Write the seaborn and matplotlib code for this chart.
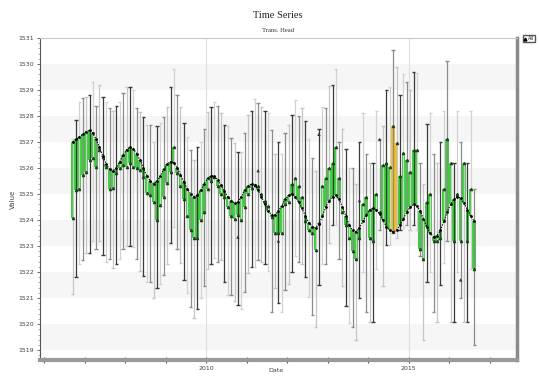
import numpy as np
import pandas as pd
import matplotlib
matplotlib.use("Agg")
import matplotlib.pyplot as plt
import matplotlib.dates as mdates
from matplotlib.ticker import MultipleLocator, FixedLocator
from matplotlib.lines import Line2D
import seaborn as sns

# Monthly head statistics, Sep 2006 - Aug 2016
months = pd.date_range("2006-09-01", periods=120, freq="MS") + pd.Timedelta(days=14)

trend = [
    1527.0, 1527.1, 1527.2, 1527.3,
    1527.4, 1527.45, 1527.35, 1527.1, 1526.8, 1526.45, 1526.15, 1525.95, 1525.9, 1526.0, 1526.25, 1526.5,
    1526.7, 1526.8, 1526.75, 1526.55, 1526.3, 1526.0, 1525.7, 1525.5, 1525.4, 1525.5, 1525.7, 1525.95,
    1526.15, 1526.25, 1526.2, 1526.0, 1525.75, 1525.45, 1525.2, 1525.0, 1524.9, 1524.95, 1525.15, 1525.4,
    1525.6, 1525.7, 1525.7, 1525.55, 1525.35, 1525.1, 1524.9, 1524.75, 1524.65, 1524.7, 1524.9, 1525.15,
    1525.3, 1525.4, 1525.35, 1525.15, 1524.9, 1524.6, 1524.35, 1524.2, 1524.2, 1524.35, 1524.55, 1524.8,
    1524.95, 1525.0, 1524.9, 1524.7, 1524.45, 1524.15, 1523.9, 1523.75, 1523.7, 1523.85, 1524.15, 1524.5,
    1524.75, 1524.9, 1524.95, 1524.8, 1524.5, 1524.15, 1523.8, 1523.6, 1523.55, 1523.7, 1523.95, 1524.2,
    1524.4, 1524.45, 1524.4, 1524.25, 1524.0, 1523.75, 1523.6, 1523.55, 1523.6, 1523.8, 1524.05, 1524.3,
    1524.5, 1524.6, 1524.55, 1524.35, 1524.05, 1523.75, 1523.5, 1523.35, 1523.4, 1523.6, 1523.95, 1524.3,
    1524.6, 1524.8, 1524.9, 1524.85, 1524.65, 1524.4, 1524.15, 1523.95,
]

observed = [
    1524.07, 1525.15, 1525.2, 1525.73, 1525.86, 1526.3, 1526.4, 1526.05, 1526.7, 1526.44, 1526.05, 1525.2,
    1525.25, 1525.8, 1526.0, 1526.1, 1526.05, 1526.2, 1526.05, 1526.0, 1525.92, 1525.67, 1525.03, 1524.96,
    1524.7, 1524.0, 1524.58, 1524.9, 1525.41, 1525.86, 1526.8, 1525.8, 1525.3, 1524.8, 1524.15, 1523.6,
    1523.3, 1523.3, 1524.0, 1524.3, 1525.2, 1525.5, 1525.65, 1525.3, 1525.0, 1524.9, 1524.5, 1524.15,
    1524.05, 1524.2, 1524.0, 1524.5, 1525.0, 1525.25, 1525.35, 1525.3, 1525.0, 1524.75, 1524.55, 1524.1,
    1523.5, 1523.5, 1523.5, 1524.6, 1524.7, 1525.4, 1525.6, 1525.3, 1524.9, 1523.95, 1523.6, 1523.5,
    1522.85, 1523.9, 1525.3, 1525.6, 1526.0, 1526.2, 1526.8, 1525.6, 1524.3, 1523.8, 1523.3, 1522.8,
    1522.5, 1523.3, 1524.6, 1524.9, 1523.3, 1523.2, 1525.0, 1524.3, 1526.1, 1526.2, 1526.05, 1527.6,
    1526.95, 1525.7, 1526.56, 1526.3, 1525.85, 1526.7, 1526.7, 1522.9, 1522.5, 1524.7, 1525.0, 1523.2,
    1523.2, 1523.3, 1525.2, 1527.1, 1526.2, 1523.2, 1525.0, 1523.2, 1526.2, 1523.2, 1525.2, 1522.1,
]

maximum = [
    1527.1, 1527.85, 1528.55, 1528.7, 1528.75, 1528.8, 1529.3, 1528.4, 1529.2, 1528.75, 1528.55, 1528.3,
    1528.2, 1528.4, 1528.55, 1528.9, 1529.1, 1529.1, 1529.0, 1528.3, 1528.15, 1527.95, 1527.65, 1527.65,
    1527.0, 1527.6, 1527.75, 1527.95, 1528.35, 1529.1, 1529.8, 1528.8, 1528.35, 1527.75, 1527.2, 1526.7,
    1526.3, 1526.8, 1527.0, 1527.5, 1528.15, 1528.35, 1528.55, 1528.4, 1528.1, 1527.65, 1527.6, 1527.15,
    1526.95, 1526.6, 1526.6, 1527.35, 1528.05, 1528.2, 1528.65, 1528.5, 1528.35, 1528.2, 1528.1, 1527.45,
    1526.55, 1527.0, 1526.55, 1527.35, 1527.65, 1528.05, 1528.6, 1528.0, 1528.3, 1527.8, 1527.1, 1526.4,
    1525.9, 1527.5, 1528.35, 1528.3, 1529.15, 1529.2, 1529.8, 1527.0, 1527.5, 1526.75, 1526.0, 1526.0,
    1525.4, 1527.0, 1528.1, 1526.55, 1526.2, 1526.2, 1528.2, 1527.1, 1527.6, 1529.0, 1529.1, 1530.55,
    1529.9, 1528.8, 1529.6, 1529.3, 1529.0, 1529.7, 1529.65, 1526.2, 1525.4, 1527.7, 1528.1, 1526.55,
    1526.2, 1527.0, 1528.2, 1530.1, 1526.2, 1526.2, 1528.2, 1527.0, 1526.2, 1526.2, 1528.2, 1525.2,
]

minimum = [
    1521.15, 1521.8, 1522.3, 1522.45, 1522.75, 1522.75, 1523.2, 1522.9, 1523.2, 1522.65, 1522.4, 1522.5,
    1522.15, 1522.3, 1522.5, 1522.9, 1523.0, 1523.0, 1522.95, 1522.5, 1522.05, 1521.85, 1521.6, 1521.6,
    1521.0, 1521.4, 1521.55, 1521.9, 1522.3, 1523.1, 1523.75, 1522.9, 1522.35, 1521.7, 1521.2, 1520.65,
    1520.25, 1520.6, 1521.0, 1521.45, 1522.1, 1522.3, 1522.55, 1522.4, 1522.45, 1521.6, 1521.1, 1521.1,
    1520.9, 1520.75, 1520.6, 1521.25, 1521.95, 1522.2, 1522.2, 1522.45, 1522.4, 1522.3, 1522.05, 1520.45,
    1521.4, 1520.8, 1520.45, 1521.3, 1521.55, 1522.0, 1522.6, 1522.4, 1522.3, 1521.8, 1521.05, 1520.35,
    1519.9, 1521.5, 1522.3, 1522.3, 1523.1, 1523.8, 1523.8, 1522.5, 1521.45, 1520.7, 1520.05, 1519.9,
    1519.4, 1521.0, 1522.0, 1520.45, 1520.1, 1520.1, 1522.1, 1523.6, 1521.45, 1523.05, 1523.05, 1523.5,
    1523.3, 1523.6, 1523.7, 1523.8, 1523.6, 1523.8, 1523.6, 1522.6, 1519.4, 1521.6, 1522.0, 1520.45,
    1520.1, 1521.5, 1522.35, 1523.2, 1520.1, 1520.1, 1522.0, 1521.0, 1520.1, 1520.1, 1522.1, 1519.2,
]

# Single manual readings
spot_month = [49, 55, 61, 73, 85, 91, 115]
spot_value = [1523.35, 1525.9, 1523.2, 1527.3, 1524.75, 1527.1, 1521.7]

# Highlighted months
highlight = [95, 96]

y_ticks = list(range(1519, 1532))
x_labels = {2010: "2010", 2015: "2015"}

sns.set_theme(style="white")
plt.rcParams["font.family"] = ["DejaVu Sans"]

fig = plt.figure(figsize=(5.39, 3.76), dpi=100)
ax = fig.add_axes([40 / 539, 1 - 360 / 376, (517 - 40) / 539, (360 - 38) / 376])

trend_a = np.array(trend)
obs_a = np.array(observed)

# alternating horizontal bands
for k in range(1519, 1531, 2):
    ax.axhspan(k, k + 1, color="#f6f6f6", zorder=0, lw=0)
for yr in (2010, 2015):
    ax.axvline(pd.Timestamp(f"{yr}-01-01"), color="#dedede", lw=0.8, zorder=0.5)

# band between observed and trend for each month
bar_colors = ["#f0be2a" if i in highlight else "#3ccf3c" for i in range(len(months))]
ax.bar(months, obs_a - trend_a, bottom=trend_a, width=31, color=bar_colors,
       linewidth=0, zorder=2)

# monthly min/max whiskers
greys = ["#c6c6c6", "#3a3a3a", "#d2d2d2", "#8c8c8c"]
wcol = [greys[i % 4] for i in range(len(months))]
ax.vlines(months, minimum, maximum, colors=wcol, lw=0.9, zorder=3)
half = pd.Timedelta(days=15)
ax.hlines(maximum, months - half, months + half, colors=wcol, lw=1.0, zorder=3)
ax.hlines(minimum, months - half, months + half, colors=wcol, lw=1.0, zorder=3)

# observed points
ax.plot(months, obs_a, linestyle="none", marker="^", markersize=1.6,
        color="#1f3f1f", zorder=4)

# trend line
sns.lineplot(x=months, y=trend_a, ax=ax, color="black", linestyle=(0, (1.2, 1.2)),
             linewidth=0.8, marker="o", markersize=2.0, markeredgewidth=0, zorder=5)

# manual readings
sns.scatterplot(x=months[spot_month], y=spot_value, ax=ax, marker="^", s=6,
                color="#333333", edgecolor="none", zorder=5)

ax.set_xlim(pd.Timestamp("2005-11-25"), pd.Timestamp("2017-09-05"))
ax.set_ylim(1518.62, 1531.0)

ax.yaxis.set_major_locator(FixedLocator(y_ticks))
ax.yaxis.set_minor_locator(MultipleLocator(0.2))
ax.set_yticklabels([str(v) for v in y_ticks])
ax.xaxis.set_major_locator(mdates.YearLocator())
ax.xaxis.set_major_formatter(
    plt.FuncFormatter(lambda v, p: x_labels.get(mdates.num2date(v).year, "")))

ax.tick_params(axis="y", which="major", direction="out", length=2.5, width=0.6,
               labelsize=4.5, pad=1.5, colors="#555555", left=True)
ax.tick_params(axis="y", which="minor", direction="out", length=1.2, width=0.4,
               colors="#777777", left=True)
ax.tick_params(axis="x", which="major", direction="inout", length=4, width=0.8,
               labelsize=4.5, pad=2, colors="#555555", bottom=True)
for lab in ax.get_yticklabels() + ax.get_xticklabels():
    lab.set_color("#444444")

ax.set_ylabel("Value", fontsize=5, color="#444444", labelpad=2)
ax.set_xlabel("")

for side, spine in ax.spines.items():
    spine.set_visible(True)
ax.spines["left"].set_color("#555555")
ax.spines["left"].set_linewidth(0.8)
ax.spines["bottom"].set_color("#9a9a9a")
ax.spines["bottom"].set_linewidth(3)
ax.spines["right"].set_color("#8a8a8a")
ax.spines["right"].set_linewidth(2.5)
ax.spines["top"].set_color("#c8c8c8")
ax.spines["top"].set_linewidth(0.8)

fig.text(278 / 539, 1 - 16 / 376, "Time Series", ha="center", va="center",
         fontsize=7.5, family="Liberation Serif", color="#222222")
fig.text(278 / 539, 1 - 30 / 376, "Trans. Head", ha="center", va="center",
         fontsize=4.8, family="Liberation Serif", color="#333333")
fig.text(276 / 539, 1 - 370.5 / 376, "Date", ha="center", va="center",
         fontsize=4.5, color="#444444")

fig.legend(handles=[Line2D([], [], marker="^", color="black", linestyle="none", markersize=2)],
           labels=["All"], loc="upper left", bbox_to_anchor=(523 / 539, 1 - 35 / 376),
           fontsize=3.5, frameon=True, fancybox=False, edgecolor="#555555",
           borderpad=0.25, borderaxespad=0, handlelength=0.5, handletextpad=0.2,
           framealpha=1)

fig.savefig("out.png", dpi=100)
